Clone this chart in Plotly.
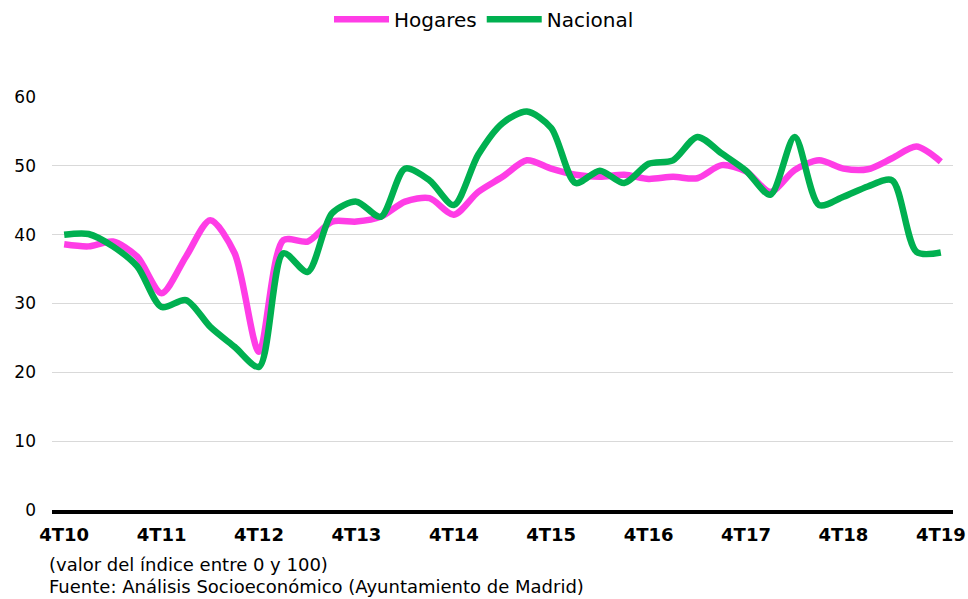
import plotly.graph_objects as go

quarters = [f"{q}T{y}" for y in range(10, 20) for q in (1, 2, 3, 4)][3:]  # 4T10 .. 4T19
tick_labels = ["4T10", "4T11", "4T12", "4T13", "4T14", "4T15", "4T16", "4T17", "4T18", "4T19"]

hogares = [38.6, 38.3, 39.0, 36.8, 31.5, 36.8, 42.1, 37.3, 23.0, 39.2, 39.0, 41.9, 41.9,
           42.6, 44.8, 45.3, 42.9, 46.2, 48.4, 50.8, 49.6, 48.7, 48.4, 48.7, 48.1,
           48.4, 48.2, 50.1, 49.2, 46.2, 49.4, 50.8, 49.6, 49.5, 51.1, 52.8, 50.6]
nacional = [40.0, 40.1, 38.3, 35.4, 29.5, 30.5, 26.6, 23.7, 20.8, 37.3, 34.6, 43.1, 44.8,
            42.6, 49.6, 47.9, 44.3, 51.6, 56.2, 57.9, 55.5, 47.5, 49.3, 47.5, 50.3,
            50.8, 54.2, 51.8, 49.3, 45.8, 54.2, 44.3, 45.5, 47.0, 47.9, 37.5, 37.4]

idx = list(range(len(quarters)))
FONT = "DejaVu Sans, Verdana, sans-serif"

fig = go.Figure()
fig.add_trace(go.Scatter(x=idx, y=hogares, name="Hogares", mode="lines",
                         line=dict(color="#FF3DE6", width=6.5, shape="spline", smoothing=0.8),
                         text=quarters))
fig.add_trace(go.Scatter(x=idx, y=nacional, name="Nacional", mode="lines",
                         line=dict(color="#00B050", width=6.5, shape="spline", smoothing=0.8),
                         text=quarters))

fig.update_layout(
    width=968, height=599,
    margin=dict(l=52, r=15, t=97, b=89, autoexpand=False),
    paper_bgcolor="white", plot_bgcolor="white",
    font=dict(family=FONT, color="#000000", size=17),
    showlegend=True,
    legend=dict(orientation="h", xref="container", yref="container",
                x=0.5, xanchor="center", y=0.968, yanchor="middle",
                font=dict(size=20, family=FONT), itemwidth=55, traceorder="normal"),
    xaxis=dict(range=[-0.5, 36.5], tickvals=idx[::4], ticktext=tick_labels,
               showgrid=False, showline=True, linecolor="#000000", linewidth=4,
               ticks="", tickfont=dict(size=18, family="DejaVu Sans", weight="bold"),
               ticklabelstandoff=5,
               zeroline=False, fixedrange=True, automargin=False),
    yaxis=dict(range=[0, 60], tickvals=[0, 10, 20, 30, 40, 50, 60],
               showgrid=True, gridcolor="#D9D9D9", gridwidth=1,
               zeroline=False, showline=False, ticks="",
               ticklabelstandoff=15,
               tickfont=dict(size=17, family=FONT), fixedrange=True, automargin=False),
    annotations=[
        dict(text="(valor del índice entre 0 y 100)", xref="paper", yref="paper",
             x=-0.005, y=-0.133, xanchor="left", yanchor="middle", showarrow=False,
             font=dict(size=18, family=FONT)),
        dict(text="Fuente: Análisis Socioeconómico (Ayuntamiento de Madrid)", xref="paper", yref="paper",
             x=-0.005, y=-0.186, xanchor="left", yanchor="middle", showarrow=False,
             font=dict(size=18, family=FONT)),
    ],
)

fig.write_html("out.html", config={"displayModeBar": False},
               post_script="document.body.style.margin='0px';")
